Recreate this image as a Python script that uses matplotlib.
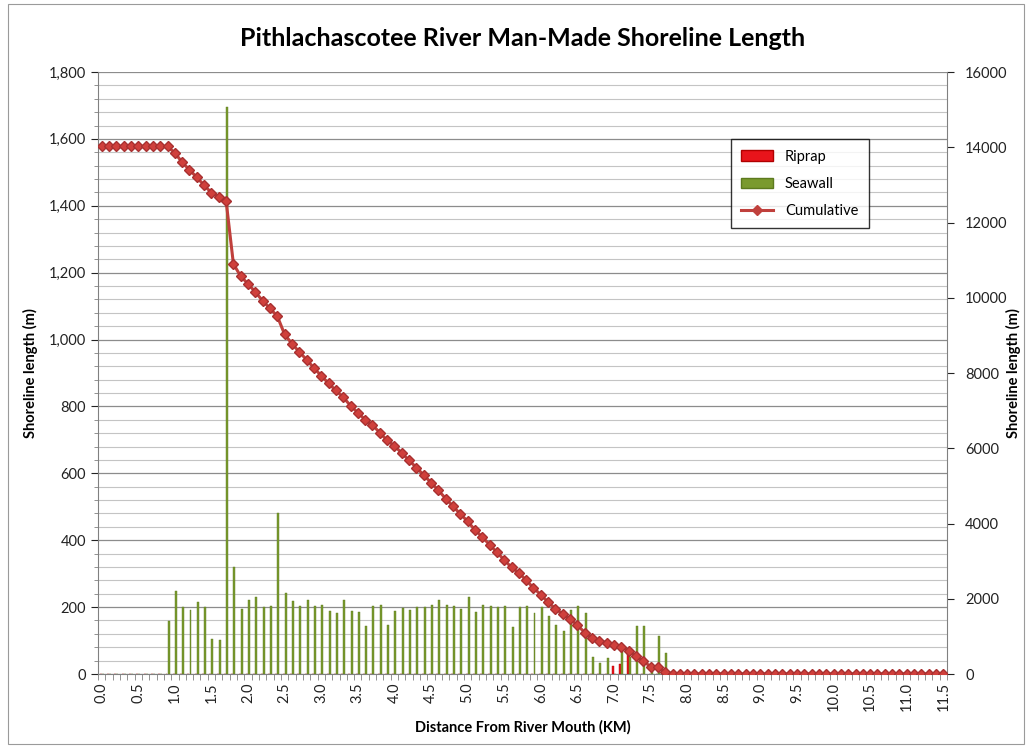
import matplotlib
matplotlib.use("Agg")
import matplotlib.pyplot as plt
import matplotlib.patches as mpatches
from matplotlib.lines import Line2D
from matplotlib.ticker import FuncFormatter, MultipleLocator, FixedLocator

plt.rcParams["font.family"] = ["Lato", "DejaVu Sans"]

# Distance categories 0.0 ... 11.5 km (one per 0.1 km)
distance_km = [round(0.1 * i, 1) for i in range(116)]

# Seawall length (m) per segment
seawall = (
    [0] * 9
    # 0.9 - 1.8
    + [159, 249, 199, 191, 216, 201, 104, 102, 1694, 319]
    # 1.9 - 2.8
    + [193, 221, 229, 201, 204, 482, 243, 219, 203, 221]
    # 2.9 - 3.8
    + [203, 206, 188, 181, 221, 189, 185, 143, 203, 205]
    # 3.9 - 4.8
    + [146, 189, 196, 192, 199, 199, 205, 220, 206, 203]
    # 4.9 - 5.8
    + [195, 231, 186, 205, 203, 200, 203, 140, 199, 204]
    # 5.9 - 6.8
    + [181, 199, 172, 146, 130, 191, 203, 183, 52, 32]
    # 6.9 - 7.7
    + [47, 0, 82, 52, 145, 145, 20, 114, 62]
    + [0] * 38
)

# Riprap length (m) per segment
riprap = [0] * 70 + [25, 30, 77] + [0] * 43

# Cumulative shoreline length (m) remaining upstream, right axis
cumulative = (
    [14020] * 10
    # 1.0 - 1.9
    + [13850, 13600, 13400, 13200, 12990, 12790, 12680, 12580, 10900, 10570]
    # 2.0 - 2.9
    + [10370, 10150, 9920, 9715, 9510, 9025, 8780, 8560, 8354, 8133]
    # 3.0 - 3.9
    + [7930, 7724, 7536, 7355, 7134, 6945, 6760, 6617, 6414, 6209]
    # 4.0 - 4.9
    + [6063, 5874, 5678, 5486, 5287, 5088, 4883, 4663, 4457, 4254]
    # 5.0 - 5.9
    + [4059, 3828, 3642, 3437, 3234, 3034, 2831, 2691, 2492, 2288]
    # 6.0 - 6.9
    + [2107, 1908, 1736, 1590, 1460, 1300, 1100, 960, 880, 830]
    # 7.0 - 7.7
    + [770, 727, 615, 486, 341, 196, 176, 62]
    + [0] * 38
)

x = list(range(len(distance_km)))

fig = plt.figure(figsize=(10.26, 7.48), dpi=100)
ax = fig.add_axes([98 / 1026, 1 - 674 / 748, 849 / 1026, 602 / 748])

# chart border
fig.patches.append(
    mpatches.Rectangle((0.008, 0.006), 0.99, 0.988, transform=fig.transFigure,
                       fill=False, edgecolor="#9a9a9a", linewidth=0.8)
)

bar_w = 0.27
ax.bar([i - 0.14 for i in x], riprap, width=bar_w, color="#E8141B",
       edgecolor="#B00000", linewidth=0.3, zorder=3)
ax.bar([i + 0.14 for i in x], seawall, width=bar_w, color="#7A9A2E",
       edgecolor="#5C7A1E", linewidth=0.3, zorder=3)

ax.set_xlim(-0.5, len(x) - 0.5)
ax.set_ylim(0, 1800)
ax.yaxis.set_major_locator(MultipleLocator(200))
ax.yaxis.set_minor_locator(MultipleLocator(40))
ax.yaxis.set_major_formatter(FuncFormatter(lambda v, p: f"{int(v):,}"))
ax.grid(which="major", axis="y", color="#8c8c8c", linewidth=0.9, zorder=0)
ax.grid(which="minor", axis="y", color="#c4c4c4", linewidth=0.8, zorder=0)
ax.set_axisbelow(True)

# x ticks: labels every 0.5 km, marks between categories
ax.xaxis.set_major_locator(FixedLocator(x[::5]))
ax.set_xticklabels([f"{d:.1f}" for d in distance_km[::5]], rotation=90)
ax.xaxis.set_minor_locator(FixedLocator([i - 0.5 for i in range(len(x) + 1)]))
ax.tick_params(axis="x", which="major", length=0, pad=6, labelsize=10.5, colors="#222222")
ax.tick_params(axis="x", which="minor", length=4, color="#808080")
ax.tick_params(axis="y", which="major", length=5, labelsize=10.5, colors="#222222")
ax.tick_params(axis="y", which="minor", length=3, color="#808080")

for s in ["top", "right"]:
    ax.spines[s].set_visible(False)
ax.spines["left"].set_color("#808080")
ax.spines["bottom"].set_color("#808080")

ax.set_xlabel("Distance From River Mouth (KM)", fontsize=10.5, fontweight="bold", labelpad=6)
ax.set_ylabel("Shoreline length (m)", fontsize=10.5, fontweight="bold")
ax.yaxis.set_label_coords(-0.071, 0.5)

ax2 = ax.twinx()
ax2.plot(x, cumulative, color="#C0403C", linewidth=2.2, marker="D", markersize=5.5,
         markerfacecolor="#D0403C", markeredgecolor="#A83030", zorder=4)
ax2.set_ylim(0, 16000)
ax2.yaxis.set_major_locator(MultipleLocator(2000))
ax2.tick_params(axis="y", length=5, labelsize=10.5, colors="#222222", pad=8)
for s in ["top", "left", "bottom"]:
    ax2.spines[s].set_visible(False)
ax2.spines["right"].set_color("#808080")
ax2.set_ylabel("Shoreline length (m)", fontsize=10.5, fontweight="bold")
ax2.yaxis.set_label_coords(1.07, 0.5)

handles = [
    mpatches.Patch(facecolor="#E8141B", edgecolor="#B00000", label="Riprap"),
    mpatches.Patch(facecolor="#7A9A2E", edgecolor="#5C7A1E", label="Seawall"),
    Line2D([0], [0], color="#C0403C", linewidth=2.2, marker="D", markersize=5.5,
           label="Cumulative"),
]
leg = ax2.legend(handles=handles, loc="upper left", bbox_to_anchor=(0.737, 0.9),
                 fontsize=10.5, frameon=True, fancybox=False, edgecolor="black",
                 handlelength=2.2, labelspacing=0.9, borderpad=0.7)
leg.get_frame().set_linewidth(1.0)

fig.text(523 / 1026, 1 - 38 / 748, "Pithlachascotee River Man-Made Shoreline Length",
         ha="center", va="center", fontsize=18, fontweight="bold")

fig.savefig("out.png", dpi=100)
